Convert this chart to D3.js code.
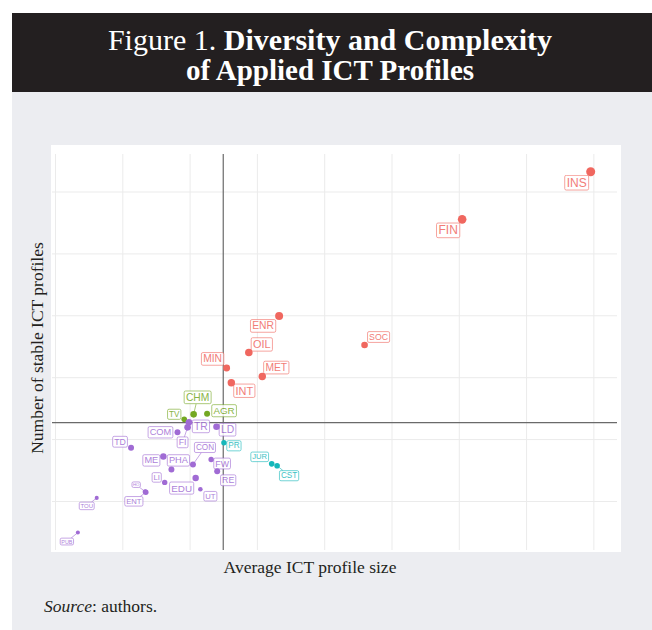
<!DOCTYPE html>
<html>
<head>
<meta charset="utf-8">
<script src="https://cdn.jsdelivr.net/npm/d3@7"></script>
<style>
  html, body { margin: 0; padding: 0; background: #ffffff; }
  svg { display: block; }
</style>
</head>
<body>
<svg id="fig" width="652" height="630"></svg>
<script>
// ---- data -------------------------------------------------------------
const sectors = ["INS","FIN","ENR","SOC","OIL","MIN","MET","INT",
                 "CHM","AGR","TV",
                 "TR","FI","LD","COM","TD","ME","CON","FW","PHA","RE","LI","EDU","UT","ENT","HO","TOU","PUB",
                 "PR","JUR","CST"];
const cluster = ["C1","C1","C1","C1","C1","C1","C1","C1",
                 "C2","C2","C2",
                 "C4","C4","C4","C4","C4","C4","C4","C4","C4","C4","C4","C4","C4","C4","C4","C4","C4",
                 "C3","C3","C3"];
// average ICT profile size (x) and number of stable ICT profiles (y)
const profileSize    = [7.96,6.05,3.33,4.60,2.88,2.55,3.08,2.62,
                        2.06,2.26,1.92,
                        1.99,1.97,2.40,1.82,1.13,1.61,2.05,2.32,1.73,2.41,1.63,2.09,2.16,1.35,1.34,0.62,0.34,
                        2.51,3.22,3.30];
const stableProfiles = [5.32,4.55,2.99,2.52,2.40,2.15,2.01,1.91,
                        1.40,1.41,1.32,
                        1.27,1.19,1.20,1.11,0.86,0.72,0.59,0.67,0.51,0.48,0.30,0.37,0.19,0.14,0.15,0.05,-0.51,
                        0.94,0.60,0.57];
// marker weight and label weight per sector
const pointWeight = [100,91,79,54,71,60,68,68,
                     54,44,39,
                     54,54,54,44,44,51,44,36,44,44,36,51,26,36,31,20,20,
                     36,39,39];
const labelWeight = [100,100,86,73,91,86,86,91,
                     86,82,68,
                     86,73,86,77,73,77,68,73,77,73,64,82,64,64,36,50,45,
                     68,64,68];
const meanProfileSize = 2.5;
const meanStableProfiles = 1.265;
const xGridValues = [0,1,2,3,4,5,6,7,8];
const yGridValues = [0,1,2,3,4,5];

// ---- layout -----------------------------------------------------------
const clusterColour = { C1: "#F0675F", C2: "#74A822", C3: "#16B7BA", C4: "#A06BD4" };
// offset (px) from each marker to the centre of its label box
const labelNudge = {
  INS:[-14,11], FIN:[-14,11], ENR:[-16,10], SOC:[14,-8], OIL:[13,-8], MIN:[-14,-9], MET:[14,-9], INT:[13,8],
  CHM:[4,-17], AGR:[17,-3], TV:[-10,-5],
  TR:[12,4], FI:[-5,15], LD:[11,3], COM:[-17,0], TD:[-11,-6], ME:[-12,4], CON:[12,-17], FW:[11,4],
  PHA:[7,-9], RE:[11,9], LI:[-8,-5], EDU:[-14,10], UT:[10,7], ENT:[-12,9], HO:[-9,-7], TOU:[-10,8], PUB:[-11,9],
  PR:[10,3], JUR:[-12,-7], CST:[12,10]
};

const svg = d3.select("#fig");
const W = 652, H = 630;
const serif = "'Liberation Serif', 'DejaVu Serif', serif";
const sans = "'Liberation Sans', Arial, sans-serif";

// page background and header band
svg.append("rect").attr("x", 12).attr("y", 92).attr("width", W - 12).attr("height", H - 92).attr("fill", "#ecedf1");
svg.append("rect").attr("x", 12).attr("y", 13).attr("width", W - 12).attr("height", 79).attr("fill", "#231f20");

const title = svg.append("text").attr("text-anchor", "middle").attr("fill", "#ffffff")
  .attr("font-family", serif).attr("font-size", 30);
const t1 = title.append("tspan").attr("x", 330).attr("y", 50);
t1.append("tspan").text("Figure 1. ");
t1.append("tspan").attr("font-weight", "bold").text("Diversity and Complexity");
title.append("tspan").attr("x", 330).attr("y", 80).attr("font-weight", "bold")
  .attr("font-size", 29).text("of Applied ICT Profiles");

// plot background
svg.append("rect").attr("x", 51).attr("y", 145).attr("width", 570).attr("height", 407).attr("fill", "#ffffff");

const panel = { left: 52, right: 617, top: 154, bottom: 550 };
const x = d3.scaleLinear().domain([-0.0446, 8.351]).range([panel.left, panel.right]);
const y = d3.scaleLinear().domain([-0.792, 5.606]).range([panel.bottom, panel.top]);
const r = d3.scaleSqrt().domain([0, 100]).range([0, 4.5]);
const fs = d3.scaleLinear().domain([0, 100]).range([0, 12]);

// grid
const gx = svg.append("g").attr("transform", `translate(0,${panel.bottom})`)
  .call(d3.axisBottom(x).tickValues(xGridValues).tickSize(-(panel.bottom - panel.top)).tickFormat(""));
const gy = svg.append("g").attr("transform", `translate(${panel.left},0)`)
  .call(d3.axisLeft(y).tickValues(yGridValues).tickSize(-(panel.right - panel.left)).tickFormat(""));
[gx, gy].forEach(g => {
  g.select(".domain").remove();
  g.selectAll(".tick line").attr("stroke", "#ebebeb").attr("stroke-width", 1);
});

// mean reference lines
svg.append("line").attr("x1", x(meanProfileSize)).attr("x2", x(meanProfileSize))
  .attr("y1", panel.top).attr("y2", panel.bottom).attr("stroke", "#6a6a6a").attr("stroke-width", 1.2);
svg.append("line").attr("x1", panel.left).attr("x2", panel.right)
  .attr("y1", y(meanStableProfiles)).attr("y2", y(meanStableProfiles)).attr("stroke", "#6a6a6a").attr("stroke-width", 1.2);

const data = sectors.map((code, i) => ({
  code, cluster: cluster[i], px: profileSize[i], py: stableProfiles[i],
  w: pointWeight[i], lw: labelWeight[i]
}));

// labels (boxes + leader segments)
const labelLayer = svg.append("g").attr("opacity", 0.85);
const pointLayer = svg.append("g");

data.forEach(d => {
  const cx = x(d.px), cy = y(d.py);
  const col = clusterColour[d.cluster];
  const size = fs(d.lw);
  const [dx, dy] = labelNudge[d.code];
  const lx = cx + dx, ly = cy + dy;
  const g = labelLayer.append("g");
  const txt = g.append("text").attr("x", lx).attr("y", ly)
    .attr("text-anchor", "middle").attr("dominant-baseline", "central")
    .attr("font-family", sans).attr("font-size", size).attr("fill", col).text(d.code);
  const tw = txt.node().getComputedTextLength();
  const padX = 0.13 * size + 0.4, padY = 0.07 * size + 0.2;
  const bw = tw + 2 * padX, bh = size * 1.05 + 2 * padY;
  g.insert("rect", "text").attr("x", lx - bw / 2).attr("y", ly - bh / 2)
    .attr("width", bw).attr("height", bh).attr("rx", 1.5)
    .attr("fill", "#ffffff").attr("stroke", col).attr("stroke-width", 0.7);
  // leader from marker to the box edge when the box sits apart from the marker
  const vx = cx - lx, vy = cy - ly;
  const tEdge = Math.min(vx !== 0 ? (bw / 2) / Math.abs(vx) : Infinity, vy !== 0 ? (bh / 2) / Math.abs(vy) : Infinity);
  if (tEdge < 1) {
    const ex = lx + vx * tEdge, ey = ly + vy * tEdge;
    const gap = Math.hypot(cx - ex, cy - ey) - r(d.w);
    if (gap > 4) {
      g.insert("line", "rect").attr("x1", ex).attr("y1", ey).attr("x2", cx).attr("y2", cy)
        .attr("stroke", col).attr("stroke-width", 0.7);
    }
  }
});

pointLayer.selectAll("circle").data(data).join("circle")
  .attr("cx", d => x(d.px)).attr("cy", d => y(d.py)).attr("r", d => r(d.w))
  .attr("fill", d => clusterColour[d.cluster]);

// axis titles and source note
svg.append("text").attr("x", 310).attr("y", 573).attr("text-anchor", "middle")
  .attr("font-family", serif).attr("font-size", 17.5).attr("fill", "#231f20").text("Average ICT profile size");
svg.append("text").attr("transform", "translate(43,348) rotate(-90)").attr("text-anchor", "middle")
  .attr("font-family", serif).attr("font-size", 17.5).attr("fill", "#231f20").text("Number of stable ICT profiles");
const src = svg.append("text").attr("x", 44).attr("y", 612)
  .attr("font-family", serif).attr("font-size", 17.5).attr("fill", "#231f20");
src.append("tspan").attr("font-style", "italic").text("Source");
src.append("tspan").text(": authors.");
</script>
</body>
</html>
